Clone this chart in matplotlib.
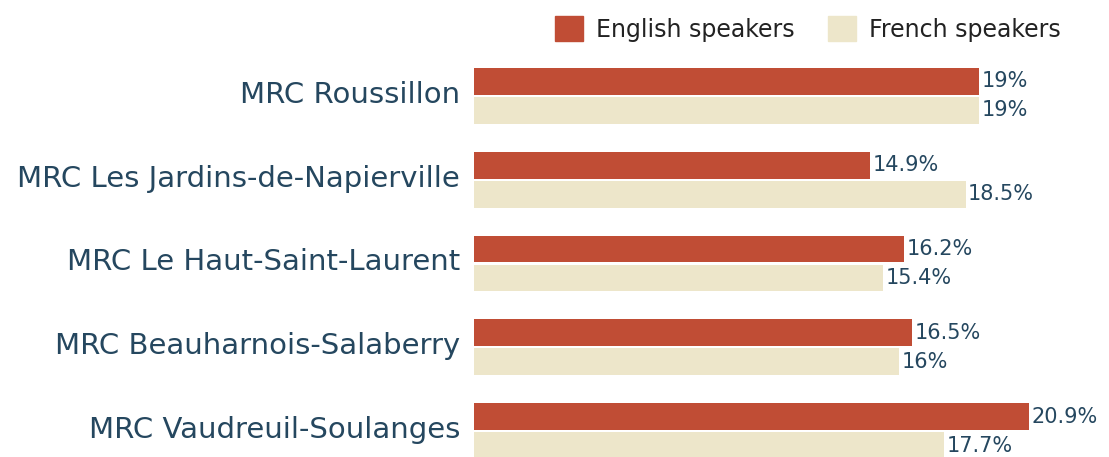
import matplotlib.pyplot as plt
from matplotlib.patches import Patch
import matplotlib.transforms as mtransforms
import numpy as np

# data
regions = ['MRC Roussillon', 'MRC Les Jardins-de-Napierville', 'MRC Le Haut-Saint-Laurent',
           'MRC Beauharnois-Salaberry', 'MRC Vaudreuil-Soulanges']
english = [19, 14.9, 16.2, 16.5, 20.9]
french = [19, 18.5, 15.4, 16, 17.7]
eng_labels = ['19%', '14.9%', '16.2%', '16.5%', '20.9%']
fr_labels = ['19%', '18.5%', '15.4%', '16%', '17.7%']

plt.rcParams['font.family'] = ['DejaVu Sans']
txt_col = '#25475f'
eng_col = '#c04d35'
fr_col = '#ede6ca'

W, H = 1109, 457
fig = plt.figure(figsize=(W / 100, H / 100), dpi=100)
ax = fig.add_axes([474 / W, 0, 635 / W, (H - 54) / H])

y = np.arange(len(regions))
h = 0.32
off = 0.173
ax.barh(y - off, english, height=h, color=eng_col)
ax.barh(y + off, french, height=h, color=fr_col)

for yi, v, lab in zip(y, english, eng_labels):
    ax.text(v + 0.1, yi - off, lab, va='center', ha='left', fontsize=15, color=txt_col)
for yi, v, lab in zip(y, french, fr_labels):
    ax.text(v + 0.1, yi + off, lab, va='center', ha='left', fontsize=15, color=txt_col)

ax.set_xlim(0, 23.9)
ax.set_ylim(4.31, -0.5)
ax.set_yticks(y)
ax.set_yticklabels(regions, fontsize=21, color=txt_col)
ax.tick_params(axis='y', length=0, pad=10)
# nudge category labels up a little
shift = mtransforms.ScaledTranslation(0, 4 / 100, fig.dpi_scale_trans)
for t in ax.get_yticklabels():
    t.set_transform(t.get_transform() + shift)
ax.set_xticks([])
for s in ax.spines.values():
    s.set_visible(False)

handles = [Patch(color=eng_col, label='English speakers'), Patch(color=fr_col, label='French speakers')]
fig.legend(handles=handles, loc='center right', bbox_to_anchor=(0.965, 1 - 29 / H), ncol=2,
           frameon=False, fontsize=17, handlelength=1.2, handleheight=1.2, columnspacing=1.4,
           handletextpad=0.55, labelcolor='#222222', borderaxespad=0)

fig.savefig('out.png', dpi=100)
